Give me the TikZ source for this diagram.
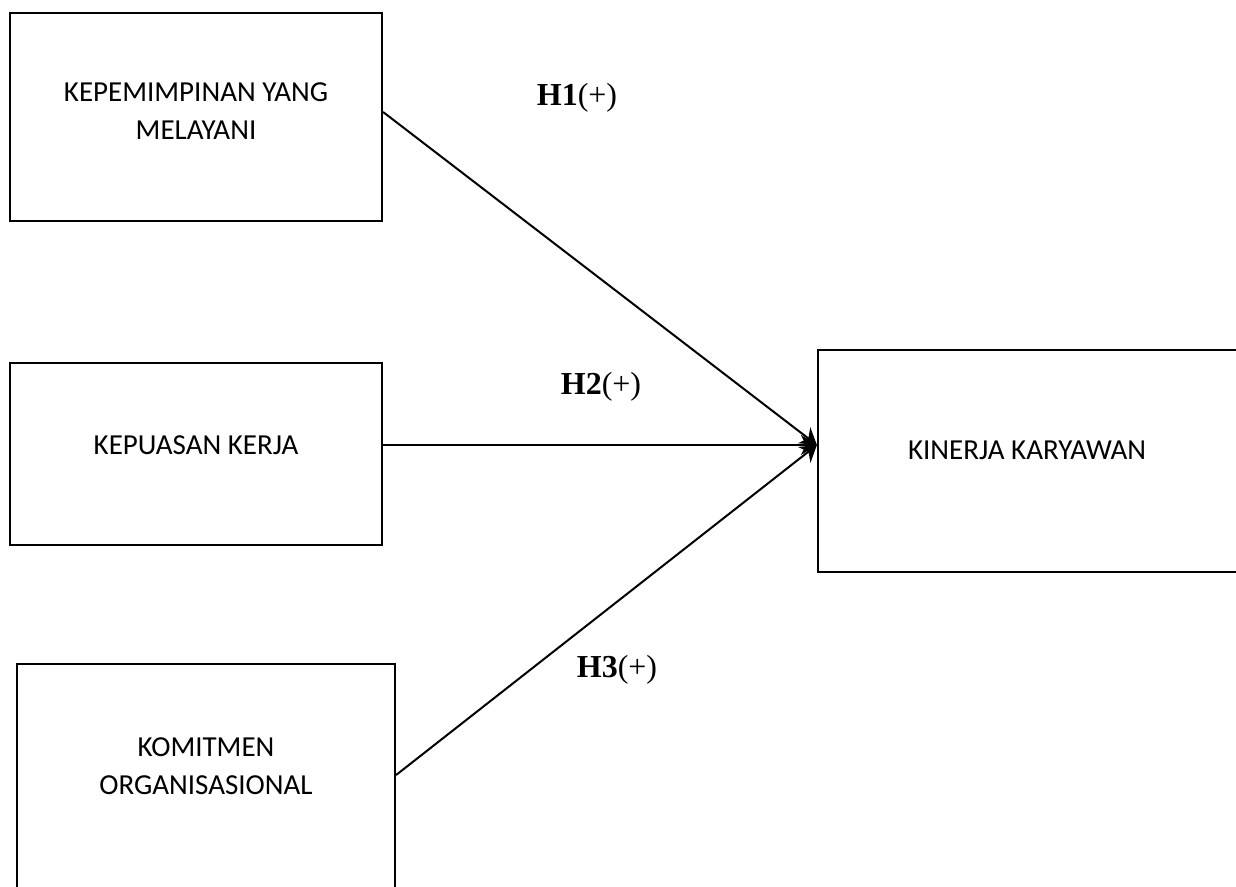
\documentclass[tikz,border=0pt]{standalone}
\usepackage{fontspec}
\setmainfont{Carlito}
\newfontfamily\timesfont{Liberation Serif}
\usetikzlibrary{arrows.meta}

\begin{document}
\begin{tikzpicture}[x=1pt,y=-1pt,
    kotak/.style={draw,line width=2.2pt,inner sep=0pt},
    teks/.style={align=center,font=\fontsize{29}{38}\selectfont},
    hipo/.style={font=\timesfont\fontsize{32}{38}\selectfont},
    panah/.style={line width=2pt,-{Stealth[length=16pt,width=20pt]}}]
\useasboundingbox (0,0) rectangle (1236,886);

% kotak variabel
\node[kotak,minimum width=372pt,minimum height=208pt] (kep) at (196,117) {};
\node[kotak,minimum width=372pt,minimum height=182pt] (kep2) at (196,454) {};
\node[kotak,minimum width=378pt,minimum height=226pt] (kom) at (206,777) {};
\node[kotak,minimum width=420pt,minimum height=222pt] (kin) at (1028,461) {};

% teks dalam kotak
\node[teks] (tkep) at (196,111) {KEPEMIMPINAN YANG\\MELAYANI};
\node[teks] (tkep2) at (196,445) {KEPUASAN KERJA};
\node[teks] (tkom) at (206,766) {KOMITMEN\\ORGANISASIONAL};
\node[teks] (tkin) at (1027,450) {KINERJA KARYAWAN};

% panah
\coordinate (ujung) at ([yshift=16pt]kin.west);
\draw[panah] ([yshift=5pt]kep.east) -- (ujung);
\draw[panah] ([yshift=9pt]kep2.east) -- (ujung);
\draw[panah] ([yshift=2pt]kom.east) -- (ujung);

% label hipotesis
\node[hipo] (h1) at (577,98) {\textbf{H1}(+)};
\node[hipo] (h2) at (601,387) {\textbf{H2}(+)};
\node[hipo] (h3) at (617,670) {\textbf{H3}(+)};
\end{tikzpicture}
\end{document}
